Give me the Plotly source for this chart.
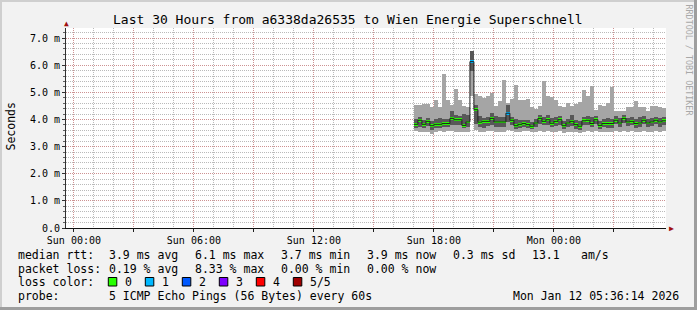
import pandas as pd
import plotly.graph_objects as go

# ---------------- data ----------------
START = "2026-01-11 17:00:00"          # first 12-minute bucket
STEP_MIN = 12
X_RANGE = ["2026-01-10 23:36:14", "2026-01-12 05:36:14"]

median = [3.82, 3.97, 3.82, 3.93, 3.77, 3.82, 3.82, 3.85, 3.85, 4.04,
          3.99, 3.99, 3.78, 3.91, 6.13, 4.36, 3.90, 3.93, 3.93, 4.04,
          3.91, 3.91, 3.91, 4.23, 3.97, 3.77, 3.82, 3.85, 3.81, 3.75,
          3.87, 4.04, 3.93, 3.99, 3.86, 3.93, 3.99, 3.77, 3.87, 3.93,
          3.81, 3.75, 3.95, 3.97, 3.85, 3.99, 3.78, 3.85, 3.85, 3.85,
          3.97, 3.87, 4.04, 3.91, 3.93, 3.85, 3.87, 3.97, 3.87, 3.91,
          3.97, 3.91, 3.95]
smoke_max = [4.55, 4.53, 4.58, 4.58, 4.45, 4.73, 4.45, 5.69, 4.72, 4.52,
             5.12, 4.73, 4.50, 4.46, 5.77, 4.95, 4.85, 4.80, 4.85, 4.98,
             4.50, 4.67, 5.47, 4.62, 4.75, 5.26, 4.70, 4.72, 4.75, 4.45,
             4.40, 4.50, 5.40, 4.85, 4.83, 4.73, 4.48, 4.46, 4.62, 4.51,
             4.58, 4.63, 5.07, 4.85, 5.24, 4.36, 4.55, 4.51, 4.60, 5.20,
             4.30, 4.30, 4.30, 4.46, 4.46, 4.67, 4.46, 4.46, 4.30, 4.51,
             4.51, 4.46, 4.42]
smoke_min = [3.58, 3.55, 3.52, 3.55, 3.45, 3.55, 3.58, 3.55, 3.58, 3.58,
             3.55, 3.55, 3.52, 3.55, 4.85, 3.60, 3.55, 3.55, 3.58, 3.58,
             3.55, 3.55, 3.55, 3.62, 3.58, 3.52, 3.55, 3.58, 3.58, 3.52,
             3.55, 3.58, 3.55, 3.58, 3.55, 3.55, 3.58, 3.50, 3.55, 3.55,
             3.52, 3.50, 3.55, 3.58, 3.55, 3.58, 3.52, 3.55, 3.55, 3.55,
             3.58, 3.55, 3.58, 3.55, 3.58, 3.55, 3.55, 3.58, 3.55, 3.55,
             3.58, 3.55, 3.58]
inner_max = [4.00, 4.10, 3.98, 4.05, 3.95, 4.00, 4.05, 4.00, 4.02, 4.30,
             4.15, 4.12, 4.20, 4.15, 6.53, 4.55, 4.12, 4.05, 4.10, 4.25,
             4.12, 4.10, 4.08, 4.55, 4.10, 4.02, 3.98, 3.97, 3.98, 3.92,
             4.02, 4.15, 4.08, 4.15, 4.05, 4.10, 4.12, 3.95, 4.02, 4.15,
             3.98, 3.95, 4.10, 4.12, 4.10, 4.12, 3.95, 4.00, 4.05, 4.02,
             4.12, 4.05, 4.18, 4.05, 4.08, 4.02, 4.08, 4.12, 4.02, 4.05,
             4.10, 4.05, 4.08]
inner_min = [3.70, 3.72, 3.68, 3.75, 3.62, 3.70, 3.70, 3.72, 3.72, 3.80,
             3.78, 3.80, 3.68, 3.72, 5.77, 3.85, 3.72, 3.70, 3.75, 3.80,
             3.72, 3.74, 3.72, 3.90, 3.78, 3.65, 3.68, 3.72, 3.70, 3.65,
             3.72, 3.82, 3.78, 3.80, 3.72, 3.76, 3.80, 3.64, 3.72, 3.75,
             3.66, 3.62, 3.78, 3.80, 3.72, 3.82, 3.66, 3.72, 3.70, 3.70,
             3.82, 3.74, 3.86, 3.76, 3.78, 3.70, 3.72, 3.82, 3.72, 3.76,
             3.82, 3.74, 3.80]
loss = [0] * 63
loss[14] = 1
loss[23] = 1

LOSS_COLORS = ["#26ff00", "#00b8ff", "#0059ff", "#7e00ff", "#ff0000", "#a00000"]
LOSS_LABELS = ["0", "1", "2", "3", "4", "5/5"]

Y_TICKS = [0, 1, 2, 3, 4, 5, 6, 7]
Y_TICKTEXT = ["0.0", "1.0 m", "2.0 m", "3.0 m", "4.0 m", "5.0 m", "6.0 m", "7.0 m"]

TITLE = "Last 30 Hours from a6338da26535 to Wien Energie Superschnell"
LEGEND_ROWS = [
    ["median rtt:", "3.9 ms avg", "6.1 ms max", "3.7 ms min", "3.9 ms now", "0.3 ms sd", "13.1", "am/s"],
    ["packet loss:", "0.19 % avg", "8.33 % max", "0.00 % min", "0.00 % now"],
]
PROBE_TEXT = "5 ICMP Echo Pings (56 Bytes) every 60s"
STAMP = "Mon Jan 12 05:36:14 2026"

# ---------------- geometry helpers (page pixels -> paper) ----------------
W_PX, H_PX = 697, 310
L, T, PW, PH = 66, 28, 600, 200
def px(x):
    return (x - L) / PW
def py(y):
    return (T + PH - y) / PH

MONO = "DejaVu Sans Mono"

n = len(median)
starts = pd.date_range(START, periods=n + 1, freq=f"{STEP_MIN}min")
centers = starts[:-1] + pd.Timedelta(minutes=STEP_MIN / 2)
width_ms = STEP_MIN * 60 * 1000

fig = go.Figure()
fig.add_trace(go.Bar(x=centers, y=[a - b for a, b in zip(smoke_max, smoke_min)], base=smoke_min,
                     width=width_ms, marker=dict(color="#a5a5a5", line=dict(width=0)),
                     hoverinfo="skip", showlegend=False))
fig.add_trace(go.Bar(x=centers, y=[a - b for a, b in zip(inner_max, inner_min)], base=inner_min,
                     width=width_ms, marker=dict(color="#585858", line=dict(width=0)),
                     hoverinfo="skip", showlegend=False))
fig.add_trace(go.Scatter(x=starts, y=median + [median[-1]], mode="lines",
                         line=dict(color="#202020", width=1, shape="hv"),
                         hoverinfo="skip", showlegend=False))
thick = 0.1
for lv, col in enumerate(LOSS_COLORS):
    idx = [i for i in range(n) if loss[i] == lv]
    if not idx:
        continue
    fig.add_trace(go.Bar(x=[centers[i] for i in idx], y=[thick] * len(idx),
                         base=[median[i] - thick / 2 for i in idx], width=width_ms,
                         marker=dict(color=col, line=dict(width=0)),
                         hoverinfo="skip", showlegend=False))

# x ticks every 3h (labels every 6h)
tick_times = pd.date_range("2026-01-11 00:00", "2026-01-12 03:00", freq="3h")
tick_text = [t.strftime("%a %H:%M") if t.hour % 6 == 0 else "" for t in tick_times]

MAJ = "rgba(230,90,90,0.42)"
MIN = "rgba(130,130,130,0.55)"

fig.update_layout(
    width=W_PX, height=H_PX, autosize=False,
    margin=dict(l=L, r=W_PX - L - PW, t=T, b=H_PX - T - PH, pad=0),
    paper_bgcolor="#f2f2f2", plot_bgcolor="#ffffff",
    barmode="overlay", bargap=0,
    font=dict(family=MONO, color="#000000", size=10),
    xaxis=dict(type="date", range=X_RANGE, tickmode="array", tickvals=tick_times, ticktext=tick_text,
               showgrid=True, gridcolor=MAJ, griddash="1px,1px", gridwidth=1,
               ticks="outside", ticklen=3, tickcolor="#202020",
               tickfont=dict(family=MONO, size=10),
               minor=dict(dtick=3600000, tick0="2026-01-11 00:00", showgrid=True, gridcolor=MIN,
                          griddash="1px,1px", gridwidth=1, ticks=""),
               showline=True, linecolor="#101010", linewidth=1, zeroline=False, fixedrange=True),
    yaxis=dict(range=[0, 7.37], tickmode="array", tickvals=Y_TICKS, ticktext=Y_TICKTEXT,
               showgrid=True, gridcolor=MAJ, griddash="1px,1px", gridwidth=1,
               ticks="outside", ticklen=3, tickcolor="#303030",
               tickfont=dict(family=MONO, size=10),
               minor=dict(dtick=0.2, tick0=0, showgrid=True, gridcolor=MIN, griddash="1px,1px",
                          gridwidth=1, ticks="outside", ticklen=2, tickcolor="#606060"),
               showline=True, linecolor="#303030", linewidth=1, zeroline=False, fixedrange=True),
)

ann = []
ann.append(dict(text=TITLE, x=px(347.5), y=py(19), font=dict(family=MONO, size=13),
                xanchor="center", yanchor="middle"))
ann.append(dict(text="Seconds", x=px(10.5), y=py(127), textangle=-90,
                font=dict(family=MONO, size=11.5), xanchor="center", yanchor="middle"))
ann.append(dict(text="RRDTOOL / TOBI OETIKER", x=px(688.5), y=py(60), textangle=90,
                font=dict(family=MONO, size=8.4, color="#a8a8a8"), xanchor="center", yanchor="middle"))
ann.append(dict(text="▲", x=px(66), y=py(24), font=dict(size=8, color="#a01010"),
                xanchor="center", yanchor="middle"))
ann.append(dict(text="▶", x=px(671), y=py(228), font=dict(size=8, color="#a01010"),
                xanchor="center", yanchor="middle"))

col_x = [16, 107.3, 193.3, 279.3, 365, 451, 530.3, 579.3]
row_y = [255, 268.5, 282, 296]
for r, row in enumerate(LEGEND_ROWS):
    for c, txt in enumerate(row):
        ann.append(dict(text=txt, x=px(col_x[c]), y=py(row_y[r]), xanchor="left", yanchor="middle",
                        font=dict(family=MONO, size=11.5)))
ann.append(dict(text="loss color:", x=px(16), y=py(row_y[2]), xanchor="left", yanchor="middle",
                font=dict(family=MONO, size=11.5)))
ann.append(dict(text="probe:", x=px(16), y=py(row_y[3]), xanchor="left", yanchor="middle",
                font=dict(family=MONO, size=11.5)))
ann.append(dict(text=PROBE_TEXT, x=px(107.3), y=py(row_y[3]), xanchor="left", yanchor="middle",
                font=dict(family=MONO, size=11.5)))
ann.append(dict(text=STAMP, x=px(680.5), y=py(row_y[3]), xanchor="right", yanchor="middle",
                font=dict(family=MONO, size=11.5)))

shapes = []
sq0, sq_step = 108.3, 37.0
for i, (col, lab) in enumerate(zip(LOSS_COLORS, LOSS_LABELS)):
    x0 = sq0 + i * sq_step
    shapes.append(dict(type="rect", xref="paper", yref="paper", x0=px(x0), x1=px(x0 + 8.5),
                       y0=py(286), y1=py(277.5), fillcolor=col, line=dict(color="#000000", width=1)))
    ann.append(dict(text=lab, x=px(x0 + 15), y=py(row_y[2]), xanchor="left", yanchor="middle",
                    font=dict(family=MONO, size=11.5)))

# 3D frame of the image
shapes += [
    dict(type="rect", xref="paper", yref="paper", x0=px(0), x1=px(697), y0=py(0), y1=py(2),
         fillcolor="#cfcfcf", line=dict(width=0), layer="below"),
    dict(type="rect", xref="paper", yref="paper", x0=px(0), x1=px(2), y0=py(0), y1=py(310),
         fillcolor="#cfcfcf", line=dict(width=0), layer="below"),
    dict(type="rect", xref="paper", yref="paper", x0=px(0), x1=px(697), y0=py(307), y1=py(310),
         fillcolor="#9e9e9e", line=dict(width=0)),
    dict(type="rect", xref="paper", yref="paper", x0=px(694), x1=px(697), y0=py(0), y1=py(310),
         fillcolor="#9e9e9e", line=dict(width=0)),
]

for a in ann:
    a.setdefault("xref", "paper")
    a.setdefault("yref", "paper")
    a.setdefault("showarrow", False)
fig.update_layout(annotations=ann, shapes=shapes)

fig.write_html("out.html", config={"displayModeBar": False})
